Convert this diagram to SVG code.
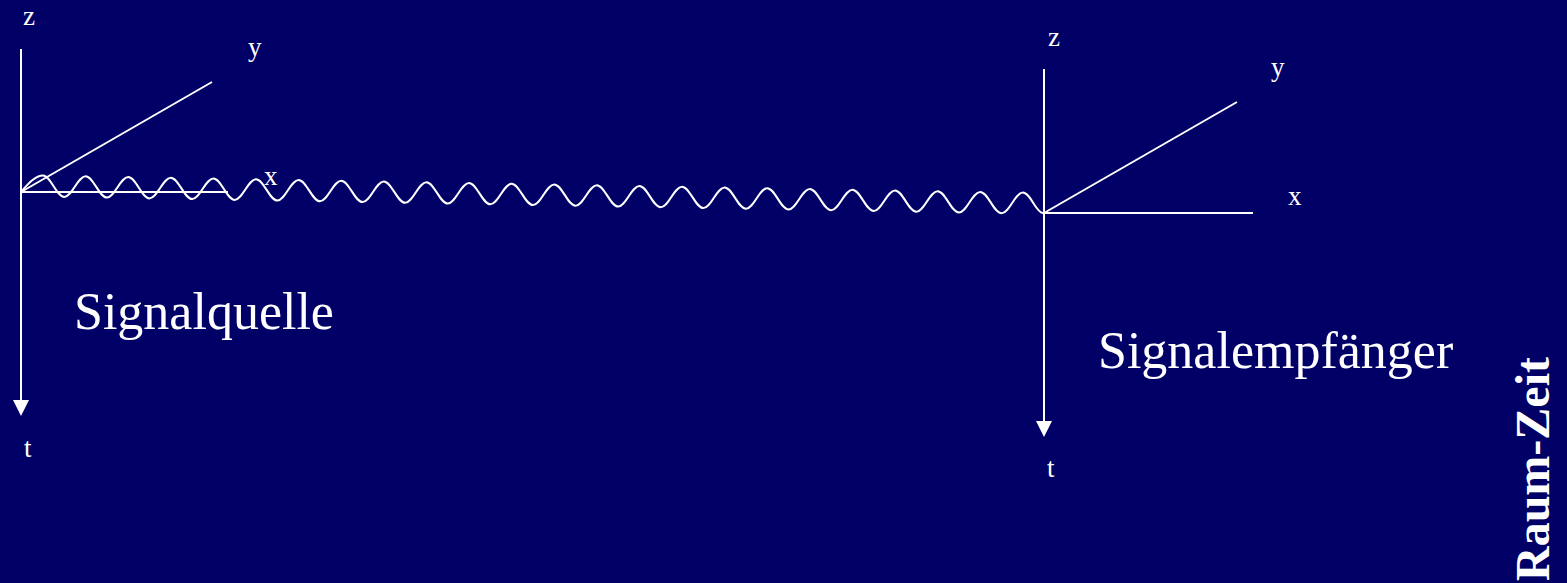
<svg xmlns="http://www.w3.org/2000/svg" width="1567" height="583" viewBox="0 0 1567 583">
<style>
.ax{stroke:#ffffff;stroke-width:2;fill:none}
.wave{stroke:#ffffff;stroke-width:2;fill:none;stroke-linejoin:round}
.lbl{font-family:"Liberation Serif","Times New Roman",serif;fill:#ffffff;font-size:27px}
.big{font-family:"Liberation Serif","Times New Roman",serif;fill:#ffffff;font-size:52px}
.title{font-family:"Liberation Serif","Times New Roman",serif;fill:#ffffff;font-size:48px;font-weight:bold}
</style>
<defs>
<marker id="arr" markerUnits="userSpaceOnUse" markerWidth="16" markerHeight="16" refX="0" refY="8" orient="auto" viewBox="0 0 16 16">
<path d="M0 0 L16 8 L0 16 Z" fill="#ffffff"/>
</marker>
</defs>
<rect x="0" y="0" width="1567" height="583" fill="#000066"/>
<g id="source">
<line class="ax" x1="21" y1="49" x2="21" y2="400" marker-end="url(#arr)"/>
<line class="ax" x1="21" y1="192" x2="228" y2="192"/>
<line class="ax" x1="21" y1="192" x2="212" y2="82"/>
<text class="lbl" x="23" y="25">z</text>
<text class="lbl" x="248" y="56">y</text>
<text class="lbl" x="264" y="185">x</text>
<text class="lbl" x="24" y="457">t</text>
<text class="big" x="74" y="329">Signalquelle</text>
</g>
<g id="receiver">
<line class="ax" x1="1044" y1="69" x2="1044" y2="421" marker-end="url(#arr)"/>
<line class="ax" x1="1044" y1="213" x2="1253" y2="213"/>
<line class="ax" x1="1044" y1="213" x2="1237" y2="102"/>
<text class="lbl" x="1048" y="46">z</text>
<text class="lbl" x="1271" y="76">y</text>
<text class="lbl" x="1288" y="205">x</text>
<text class="lbl" x="1047" y="477">t</text>
<text class="big" x="1098" y="368">Signalempfänger</text>
</g>
<g id="title">
<text class="title" transform="translate(1549,581) rotate(-90)">Raum-Zeit</text>
</g>
<g id="connectors">
<path class="wave" d="M21 192 C28 184 35.3 175.5 43 175.5 S56.55 196.9 64.3 196.9 S77.85 176.2 85.6 176.2 S99.15 197.6 106.9 197.6 S120.45 177 128.2 177 S141.75 198.4 149.5 198.4 S163.05 177.7 170.8 177.7 S184.35 199.1 192.1 199.1 S205.65 178.5 213.4 178.5 S226.95 199.9 234.7 199.9 S248.25 179.2 256 179.2 S269.55 200.6 277.3 200.6 S290.85 180 298.6 180 S312.15 201.3 319.9 201.3 S333.45 180.7 341.2 180.7 S354.75 202.1 362.5 202.1 S376.05 181.5 383.8 181.5 S397.35 202.8 405.1 202.8 S418.65 182.2 426.4 182.2 S439.95 203.6 447.7 203.6 S461.25 183 469 183 S482.55 204.3 490.3 204.3 S503.85 183.7 511.6 183.7 S525.15 205.1 532.9 205.1 S546.45 184.4 554.2 184.4 S567.75 205.8 575.5 205.8 S589.05 185.2 596.8 185.2 S610.35 206.6 618.1 206.6 S631.65 185.9 639.4 185.9 S652.95 207.3 660.7 207.3 S674.25 186.7 682 186.7 S695.55 208.1 703.3 208.1 S716.85 187.4 724.6 187.4 S738.15 208.8 745.9 208.8 S759.45 188.2 767.2 188.2 S780.75 209.5 788.5 209.5 S802.05 188.9 809.8 188.9 S823.35 210.3 831.1 210.3 S844.65 189.7 852.4 189.7 S865.95 211 873.7 211 S887.25 190.4 895 190.4 S908.55 211.8 916.3 211.8 S929.85 191.2 937.6 191.2 S951.15 212.5 958.9 212.5 S972.45 191.9 980.2 191.9 S993.75 213.3 1001.5 213.3 S1015.05 192.6 1022.8 192.6 S1036 213 1043 213"/>
</g>
</svg>
